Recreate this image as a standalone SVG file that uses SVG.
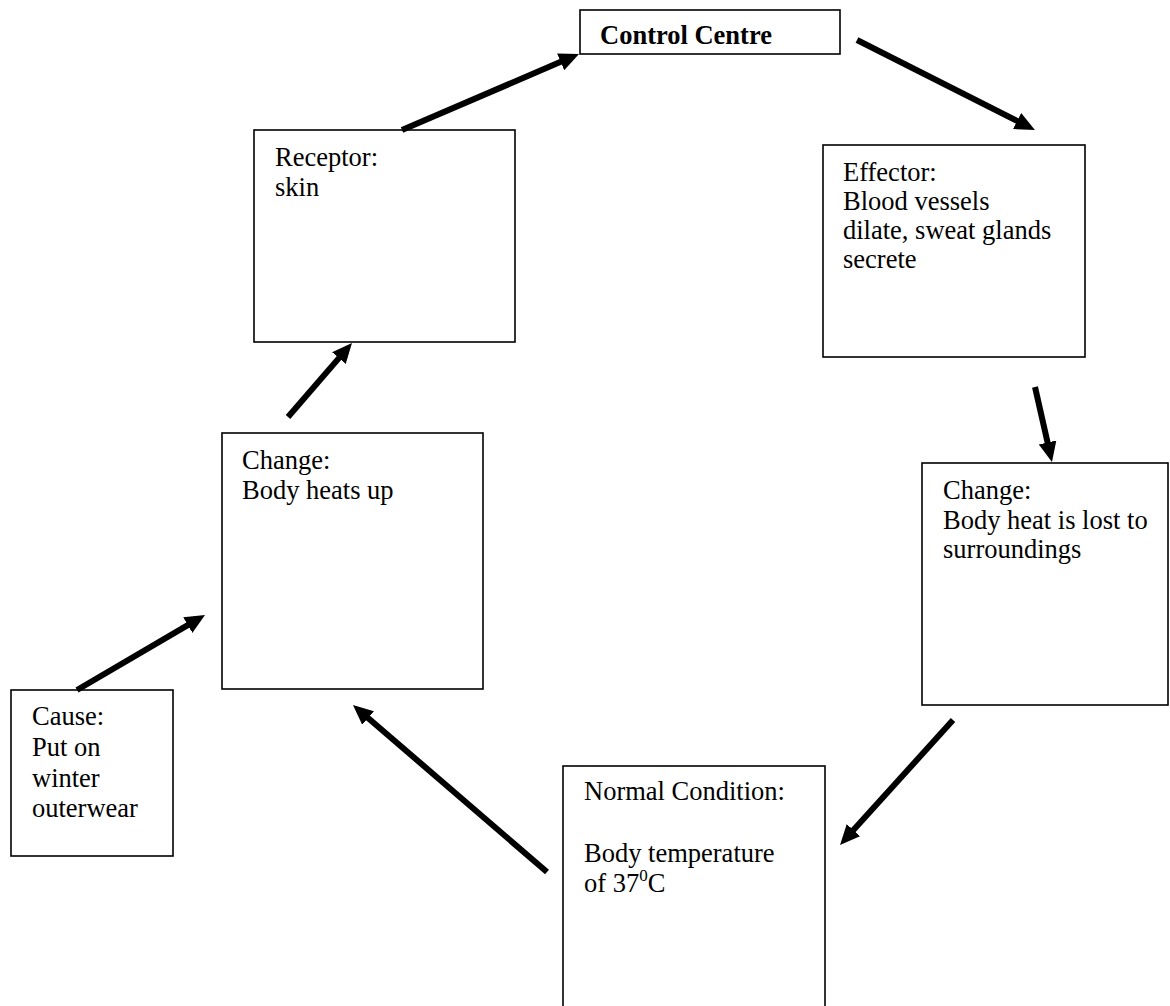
<svg xmlns="http://www.w3.org/2000/svg" width="1170" height="1006" viewBox="0 0 1170 1006">
<style>
.box{fill:#fff;stroke:#000;stroke-width:1.6}
.t{font-family:"Liberation Serif","Times New Roman",serif;font-size:26.5px;fill:#000}
.b{font-weight:bold}
.c{stroke:#000;stroke-width:6;fill:none;marker-end:url(#ah)}
</style>
<defs>
<marker id="ah" markerUnits="userSpaceOnUse" markerWidth="22" markerHeight="20" viewBox="0 0 22 20" refX="2" refY="9" orient="auto">
<path d="M0,0 L20,9 L0,18 z" fill="#000"/>
</marker>
</defs>
<rect width="1170" height="1006" fill="#fff"/>
<g id="control-centre">
<rect class="box" x="580" y="10" width="260" height="44"/>
<text class="t b" x="600" y="44">Control Centre</text>
</g>
<g id="receptor">
<rect class="box" x="254" y="130" width="261" height="212"/>
<text class="t" x="275" y="166">Receptor:</text>
<text class="t" x="275" y="196">skin</text>
</g>
<g id="effector">
<rect class="box" x="823" y="145" width="262" height="212"/>
<text class="t" x="843" y="181">Effector:</text>
<text class="t" x="843" y="210">Blood vessels</text>
<text class="t" x="843" y="239">dilate, sweat glands</text>
<text class="t" x="843" y="268">secrete</text>
</g>
<g id="change-left">
<rect class="box" x="222" y="433" width="261" height="256"/>
<text class="t" x="242" y="469">Change:</text>
<text class="t" x="242" y="499">Body heats up</text>
</g>
<g id="change-right">
<rect class="box" x="922" y="463" width="246" height="242"/>
<text class="t" x="943" y="499">Change:</text>
<text class="t" x="943" y="529">Body heat is lost to</text>
<text class="t" x="943" y="558">surroundings</text>
</g>
<g id="cause">
<rect class="box" x="11" y="690" width="162" height="166"/>
<text class="t" x="32" y="725">Cause:</text>
<text class="t" x="32" y="756">Put on</text>
<text class="t" x="32" y="787">winter</text>
<text class="t" x="32" y="817">outerwear</text>
</g>
<g id="normal-condition">
<rect class="box" x="563" y="766" width="262" height="260"/>
<text class="t" x="584" y="800">Normal Condition:</text>
<text class="t" x="584" y="862">Body temperature</text>
<text class="t" x="584" y="892">of 37<tspan font-size="17" dy="-11">0</tspan><tspan dy="11">C</tspan></text>
</g>
<g id="connectors">
<line class="c" x1="77" y1="690" x2="189.5" y2="624.1"/>
<line class="c" x1="288" y1="417" x2="340.2" y2="356.6"/>
<line class="c" x1="402" y1="130" x2="562.5" y2="61.1"/>
<line class="c" x1="857" y1="40" x2="1018.9" y2="121.9"/>
<line class="c" x1="1035" y1="387" x2="1048" y2="444.4"/>
<line class="c" x1="953" y1="720" x2="852.1" y2="831.6"/>
<line class="c" x1="547" y1="872" x2="366.6" y2="716.7"/>
</g>
</svg>
